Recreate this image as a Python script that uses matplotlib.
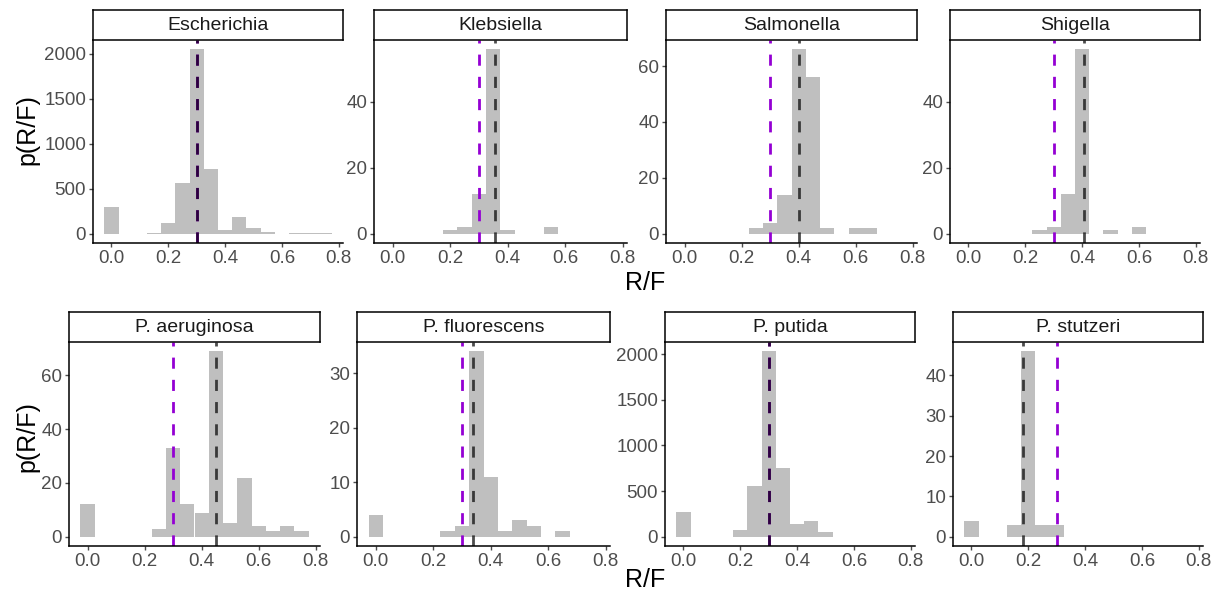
import matplotlib
matplotlib.use("Agg")
import matplotlib.pyplot as plt
import numpy as np

# Data: histogram counts of R/F per genus/species (bins of width 0.05, centres 0.00 .. 0.75)
bin_centers = [0.00, 0.05, 0.10, 0.15, 0.20, 0.25, 0.30, 0.35,
               0.40, 0.45, 0.50, 0.55, 0.60, 0.65, 0.70, 0.75]

escherichia    = [300, 0, 0, 5, 120, 560, 2050, 720, 40, 190, 60, 20, 0, 5, 8, 5]
klebsiella     = [0, 0, 0, 0, 1, 2, 12, 56, 1, 0, 0, 2, 0, 0, 0, 0]
salmonella     = [0, 0, 0, 0, 0, 2, 4, 14, 66, 56, 2, 0, 2, 2, 0, 0]
shigella       = [0, 0, 0, 0, 0, 1, 2, 12, 56, 0, 1, 0, 2, 0, 0, 0]
p_aeruginosa   = [12, 0, 0, 0, 0, 3, 33, 12, 9, 69, 5, 22, 4, 2, 4, 2]
p_fluorescens  = [4, 0, 0, 0, 0, 1, 2, 34, 11, 1, 3, 2, 0, 1, 0, 0]
p_putida       = [270, 0, 0, 0, 70, 560, 2030, 750, 140, 170, 50, 0, 0, 0, 0, 0]
p_stutzeri     = [4, 0, 0, 3, 46, 3, 3, 0, 0, 0, 0, 0, 0, 0, 0, 0]

names = ['Escherichia', 'Klebsiella', 'Salmonella', 'Shigella',
         'P. aeruginosa', 'P. fluorescens', 'P. putida', 'P. stutzeri']
counts = [escherichia, klebsiella, salmonella, shigella,
          p_aeruginosa, p_fluorescens, p_putida, p_stutzeri]
mean_rf = [0.30, 0.355, 0.40, 0.405, 0.45, 0.34, 0.30, 0.18]
ref_rf = 0.30
yticks = [[0, 500, 1000, 1500, 2000], [0, 20, 40], [0, 20, 40, 60], [0, 20, 40],
          [0, 20, 40, 60], [0, 10, 20, 30], [0, 500, 1000, 1500, 2000], [0, 10, 20, 30, 40]]

plt.rcParams['font.family'] = ['Liberation Sans', 'DejaVu Sans']

W, H = 1223, 597
fig = plt.figure(figsize=(W / 100, H / 100), dpi=100)

# panel boxes in pixels: (left, right, top, bottom)
row1 = (40, 243)
row2 = (342, 546)
xs = [(93, 343), (374, 627), (666, 917), (950, 1200),
      (69, 320), (357, 610), (665, 915), (953, 1203)]
strip_h = 30

for i, name in enumerate(names):
    l, r = xs[i]
    t, b = row1 if i < 4 else row2
    ax = fig.add_axes([l / W, 1 - b / H, (r - l) / W, (b - t) / H])
    ax.bar(bin_centers, counts[i], width=0.05, color='#bfbfbf', linewidth=0)
    ax.axvline(ref_rf, color='#9400d3', lw=2, linestyle=(0, (4, 4)))
    ax.axvline(mean_rf[i], color='black', alpha=0.7, lw=2, linestyle=(0, (4, 4)))
    ymax = max(counts[i])
    ax.set_ylim(-0.05 * ymax, 1.05 * ymax)
    ax.set_xlim(-0.065, 0.815)
    ax.set_xticks([0.0, 0.2, 0.4, 0.6, 0.8])
    ax.set_xticklabels(['0.0', '0.2', '0.4', '0.6', '0.8'])
    ax.set_yticks(yticks[i])
    ax.tick_params(labelsize=13.5, colors='#4d4d4d', length=3, width=1, pad=2)
    for sp in ['top', 'right']:
        ax.spines[sp].set_visible(False)
    for sp in ['left', 'bottom']:
        ax.spines[sp].set_color('black')
        ax.spines[sp].set_linewidth(1.1)
    # strip label
    sax = fig.add_axes([l / W, 1 - t / H, (r - l) / W, strip_h / H])
    sax.set_xticks([])
    sax.set_yticks([])
    for sp in sax.spines.values():
        sp.set_color('black')
        sp.set_linewidth(1.1)
    sax.text(0.5, 0.5, name, ha='center', va='center', fontsize=14, color='#1a1a1a',
             transform=sax.transAxes)

fig.text(645 / W, 1 - 283 / H, 'R/F', ha='center', va='center', fontsize=18)
fig.text(645 / W, 1 - 580 / H, 'R/F', ha='center', va='center', fontsize=18)
fig.text(27 / W, 1 - 130 / H, 'p(R/F)', ha='center', va='center', fontsize=18, rotation=90)
fig.text(27 / W, 1 - 437 / H, 'p(R/F)', ha='center', va='center', fontsize=18, rotation=90)

fig.savefig('out.png', dpi=100)
